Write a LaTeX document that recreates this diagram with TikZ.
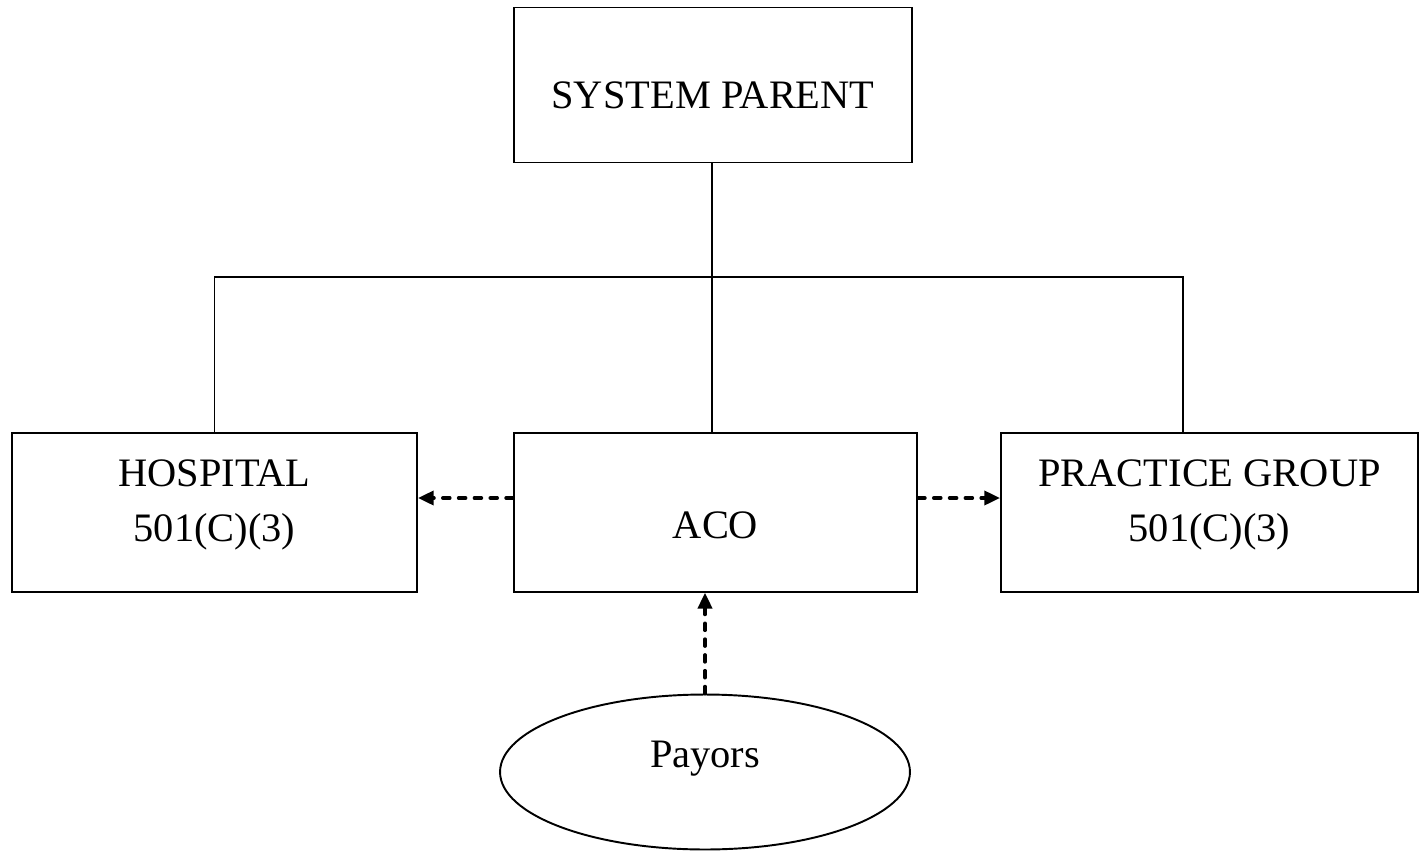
\documentclass[tikz,border=0pt]{standalone}
\usepackage{fontspec}
\setmainfont{Liberation Serif}
\usetikzlibrary{arrows.meta}
\usetikzlibrary{shapes.geometric}

\begin{document}
\begin{tikzpicture}[x=0.02cm, y=-0.02cm,
    every node/.style={font=\fontsize{23}{31}\selectfont, align=center, inner sep=0pt},
    entity/.style={draw, line width=1.1pt, minimum width=8cm, minimum height=3.17cm},
    link/.style={line width=1pt},
    flow/.style={line width=2pt, line cap=round, dash pattern=on 4pt off 5pt,
        -{Triangle[length=9pt, width=8pt]}}]
    \useasboundingbox (0, 0) rectangle (1420, 852);

    % Entity boxes
    \path
    (713, 85) node[entity, minimum width=7.96cm, minimum height=3.1cm] (sys) {}
    (214.5, 512.5) node[entity, minimum width=8.1cm] (hosp) {}
    (715.5, 512.5) node[entity, minimum width=8.06cm] (aco) {}
    (1209.5, 512.5) node[entity, minimum width=8.34cm] (prac) {}
    (705, 772) node[ellipse, draw, line width=1.1pt, minimum width=8.2cm, minimum height=3.1cm] (pay) {}
    ;

    % Entity texts
    \path
    (713, 95) node (sysT) {SYSTEM PARENT}
    (214.5, 505) node (hospT) {HOSPITAL\\501(C)(3)}
    (715.5, 525) node (acoT) {ACO}
    (1209.5, 505) node (pracT) {PRACTICE GROUP\\501(C)(3)}
    (705, 759) node (payT) {Payors}
    ;

    % Bus coordinates
    \coordinate (bus) at (712, 277);
    \coordinate (busR) at (1183, 277);

    % Ownership lines
    \draw[link] (sys.south -| bus) -- (bus);
    \draw[link] (hosp.north) -- (hosp.north |- bus) -- (busR) -- (busR |- prac.north);
    \draw[link] (aco.north -| bus) -- (bus);

    % Contract flows
    \draw[flow] (aco.west |- 0, 498) -- (hosp.east |- 0, 498);
    \draw[flow] (aco.east |- 0, 498) -- (prac.west |- 0, 498);
    \draw[flow] (pay.north) -- (pay.north |- aco.south);

\end{tikzpicture}
\end{document}
